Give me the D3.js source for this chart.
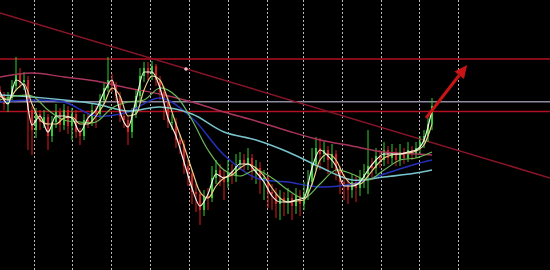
<!DOCTYPE html>
<html><head><meta charset="utf-8">
<script src="https://cdn.jsdelivr.net/npm/d3@7"></script>
<style>html,body{margin:0;padding:0;background:#000;}svg{display:block;}</style>
</head><body>
<svg id="c" width="550" height="270"></svg>
<script>
// ---- data (price units, candle index) ----
const opens  = [1410,1404,1396,1402,1414,1426,1418,1420,1390,1370,1386,1378,1383,1364,1378,1388,1375,1390,1374,1386,1368,1364,1380,1378,1390,1386,1400,1412,1420,1414,1404,1384,1380,1368,1386,1404,1424,1432,1426,1434,1420,1408,1400,1378,1378,1360,1356,1334,1326,1308,1306,1290,1304,1302,1322,1330,1324,1318,1328,1324,1336,1340,1336,1342,1328,1332,1320,1322,1308,1306,1296,1302,1298,1302,1294,1304,1296,1306,1318,1336,1352,1346,1350,1340,1346,1330,1318,1316,1310,1318,1312,1322,1326,1334,1332,1344,1340,1350,1342,1348,1340,1348,1342,1350,1346,1352,1358,1364,1376];
const closes = [1404,1396,1402,1414,1426,1418,1420,1390,1370,1386,1378,1383,1364,1378,1388,1375,1390,1374,1386,1368,1364,1380,1378,1390,1386,1400,1412,1420,1414,1404,1384,1380,1368,1386,1404,1424,1432,1426,1434,1420,1408,1400,1378,1378,1360,1356,1334,1326,1308,1306,1290,1304,1302,1322,1330,1324,1318,1328,1324,1336,1340,1336,1342,1328,1332,1320,1322,1308,1306,1296,1302,1298,1302,1294,1304,1296,1306,1318,1336,1352,1346,1350,1340,1346,1330,1318,1316,1310,1318,1312,1322,1326,1334,1332,1344,1340,1350,1342,1348,1340,1348,1342,1350,1346,1352,1358,1364,1376,1394];
const highs  = [1414,1408,1408,1420,1443,1432,1428,1424,1394,1392,1390,1390,1386,1384,1396,1392,1396,1394,1392,1390,1372,1386,1386,1396,1394,1406,1418,1443,1426,1418,1408,1390,1384,1392,1410,1432,1438,1438,1439,1436,1424,1414,1404,1386,1382,1366,1360,1340,1330,1316,1310,1310,1312,1334,1340,1336,1330,1340,1336,1346,1348,1346,1352,1346,1340,1338,1330,1326,1316,1312,1310,1308,1312,1306,1312,1310,1318,1330,1352,1363,1362,1358,1354,1356,1350,1334,1326,1322,1326,1324,1330,1336,1370,1342,1352,1350,1358,1354,1356,1352,1356,1352,1358,1354,1358,1364,1370,1382,1402];
const lows   = [1398,1390,1388,1398,1410,1412,1410,1350,1345,1362,1370,1372,1350,1358,1372,1368,1370,1366,1360,1362,1355,1360,1372,1374,1372,1382,1396,1408,1408,1398,1378,1372,1355,1362,1382,1400,1418,1420,1420,1414,1400,1380,1372,1370,1352,1346,1326,1314,1296,1288,1275,1284,1290,1298,1316,1314,1300,1312,1316,1318,1330,1328,1330,1320,1316,1306,1300,1292,1290,1282,1280,1284,1286,1280,1286,1284,1290,1300,1314,1330,1330,1338,1326,1332,1320,1306,1300,1296,1302,1298,1304,1312,1306,1320,1326,1332,1334,1336,1336,1334,1334,1336,1338,1340,1342,1346,1352,1358,1370];

// fast MA (white) and mid MA (pale yellow), every 2 candles
const fastIdx = d3.range(0, 109, 2);
const fastMA = [1408,1396,1420,1414,1375,1384,1368,1384,1384,1382,1368,1382,1390,1408,1420,1388,1373,1400,1428,1428,1412,1382,1364,1338,1312,1294,1306,1326,1322,1328,1336,1336,1328,1318,1304,1298,1298,1300,1302,1332,1350,1344,1334,1314,1314,1318,1330,1340,1346,1346,1346,1348,1350,1360,1390];
const midMA  = [1404,1400,1410,1416,1396,1380,1376,1376,1382,1383,1376,1376,1384,1396,1412,1404,1384,1386,1410,1424,1420,1400,1376,1354,1330,1308,1302,1314,1322,1325,1332,1336,1332,1324,1312,1302,1298,1299,1300,1316,1340,1346,1340,1324,1316,1316,1324,1334,1342,1345,1346,1347,1349,1355,1376];
// green MA, every 4 candles
const greenIdx = d3.range(0, 109, 4);
const greenMA = [1400,1404,1404,1390,1380,1378,1378,1392,1398,1400,1412,1404,1380,1350,1330,1324,1330,1322,1310,1302,1316,1330,1326,1320,1330,1340,1342,1348];
// slow MAs
const slowIdx = [0,8,16,24,32,40,48,56,64,72,80,88,96,104,108];
const pinkMA = [1423,1427,1423,1419,1412,1406,1398,1388,1379,1369,1360,1354,1348,1346,1345];
const cyanMA = [1405,1403,1400,1396,1389,1393,1386,1368,1360,1348,1333,1320,1323,1327,1330];
const blueMA = [1398,1400,1398,1384,1388,1402,1382,1345,1322,1318,1313,1316,1326,1336,1340];

// levels & annotations
const timeTicks = [8.4, 18, 27.75, 37.5, 47.25, 57, 66.75, 75.75, 85.5, 95.25, 104.75, 114.5];
const redLevels = [1441, 1388.5];
const grayLevel = 1398.3;
const trendLine = [[0, 1487], [137.5, 1322]];
const arrowPts = [[106.5, 1382], [116.8, 1435]];
const marker = [46.5, 1431];

// ---- drawing ----
const W = 550, H = 270;
const x = d3.scaleLinear().domain([0, 137.5]).range([0, W]);
const y = d3.scaleLinear().domain([1500, 1230]).range([0, H]);
const svg = d3.select('#c');
svg.append('rect').attr('width', W).attr('height', H).attr('fill', '#000');

svg.append('g').selectAll('line').data(timeTicks).join('line')
  .attr('x1', d => Math.round(x(d)) + 0.5).attr('x2', d => Math.round(x(d)) + 0.5)
  .attr('y1', 0).attr('y2', H)
  .attr('stroke', '#b8b8b8').attr('stroke-width', 1).attr('stroke-dasharray', '2,2');

svg.append('line').attr('x1', 0).attr('x2', W).attr('y1', y(grayLevel)).attr('y2', y(grayLevel))
  .attr('stroke', '#8e8aa0').attr('stroke-width', 1.5);
svg.append('g').selectAll('line').data(redLevels).join('line')
  .attr('x1', 0).attr('x2', W).attr('y1', d => y(d)).attr('y2', d => y(d))
  .attr('stroke', '#b01020').attr('stroke-width', 1.5);
svg.append('line')
  .attr('x1', x(trendLine[0][0])).attr('y1', y(trendLine[0][1]))
  .attr('x2', x(trendLine[1][0])).attr('y2', y(trendLine[1][1]))
  .attr('stroke', '#8a1428').attr('stroke-width', 1.5);

// candles
const cg = svg.append('g');
closes.forEach((c, i) => {
  const o = opens[i];
  const col = c >= o ? '#2fcf2f' : '#e01a1a';
  const cx = x(i);
  cg.append('line').attr('x1', cx).attr('x2', cx).attr('y1', y(highs[i])).attr('y2', y(lows[i]))
    .attr('stroke', col).attr('stroke-width', 1);
  const top = y(Math.max(o, c)), bot = y(Math.min(o, c));
  cg.append('rect').attr('x', cx - 1).attr('width', 2).attr('y', top).attr('height', Math.max(1, bot - top))
    .attr('fill', col);
});

function drawMA(idx, vals, color, width, curve) {
  const line = d3.line().x((d, k) => x(idx[k])).y(d => y(d)).curve(curve || d3.curveMonotoneX);
  svg.append('path').datum(vals).attr('d', line).attr('fill', 'none')
    .attr('stroke', color).attr('stroke-width', width).attr('stroke-linejoin', 'round');
}
drawMA(slowIdx, pinkMA, '#a8345c', 1.5, d3.curveCatmullRom);
drawMA(slowIdx, blueMA, '#2430b8', 1.5, d3.curveCatmullRom);
drawMA(slowIdx, cyanMA, '#78c4cc', 1.5, d3.curveCatmullRom);
drawMA(greenIdx, greenMA, '#6cb85a', 1.2, d3.curveCatmullRom);
drawMA(fastIdx, midMA, '#e6d08a', 1.2);
drawMA(fastIdx, fastMA, '#f4f4ea', 1.2);

// arrow
const ax1 = x(arrowPts[0][0]), ay1 = y(arrowPts[0][1]);
const ax2 = x(arrowPts[1][0]), ay2 = y(arrowPts[1][1]);
const ang = Math.atan2(ay2 - ay1, ax2 - ax1);
const hl = 13, hw = 6;
const bx = ax2 - hl * Math.cos(ang), by = ay2 - hl * Math.sin(ang);
svg.append('line').attr('x1', ax1).attr('y1', ay1).attr('x2', bx).attr('y2', by)
  .attr('stroke', '#c81414').attr('stroke-width', 3);
svg.append('polygon').attr('fill', '#c81414').attr('points', [
  [ax2, ay2],
  [bx + hw * Math.sin(ang), by - hw * Math.cos(ang)],
  [bx - hw * Math.sin(ang), by + hw * Math.cos(ang)]
].map(p => p.join(',')).join(' '));

svg.append('circle').attr('cx', x(marker[0])).attr('cy', y(marker[1])).attr('r', 1.8).attr('fill', '#f0c0c8');
</script>
</body></html>
